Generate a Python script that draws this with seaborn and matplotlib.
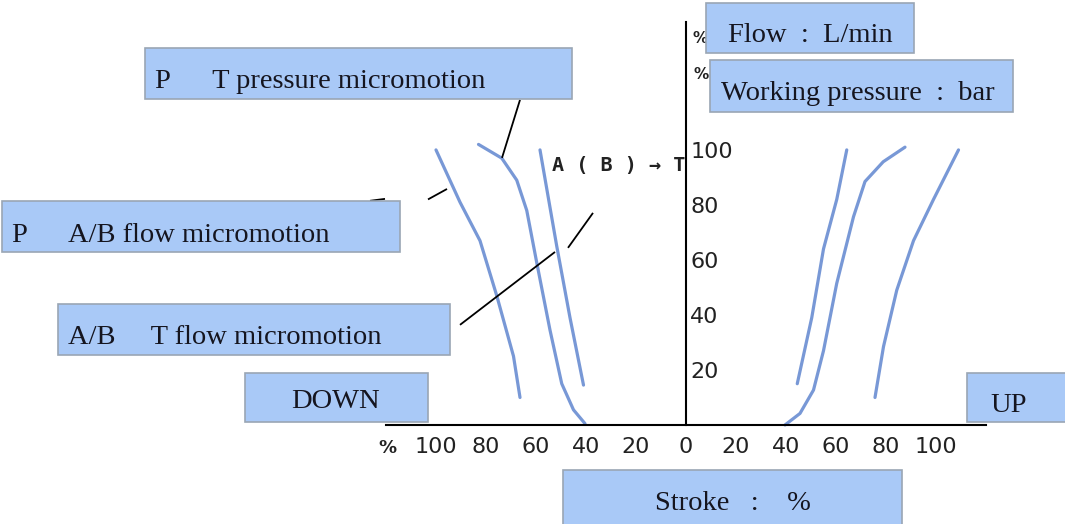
import matplotlib
matplotlib.use("Agg")
import matplotlib.pyplot as plt
from matplotlib.patches import Rectangle
import seaborn as sns
import pandas as pd

# ---- data (stroke %, flow/pressure %) ----
pab_flow_down_x = [-100, -90.4, -82.4, -75.7, -69, -66.4]
pab_flow_down_y = [100, 81, 67, 47, 25, 10]
pt_press_down_x = [-83, -73.7, -67.7, -63.7, -59.7, -54.4, -49.7, -45, -40.4]
pt_press_down_y = [102, 97, 89, 78, 59, 34.5, 15, 5.5, 0.5]
abt_flow_down_x = [-58.4, -51.7, -46.4, -41]
abt_flow_down_y = [100, 65, 39, 14.5]

r1_x = [44.5, 50.3, 55, 60.3, 64.3]
r1_y = [15, 39, 64, 82, 100]
r2_x = [39.6, 45.6, 51, 55, 60.3, 67, 71.6, 78.9, 87.6]
r2_y = [0, 4.2, 12.7, 27, 51.5, 75.7, 88.5, 95.7, 101]
r3_x = [75.6, 79, 84.3, 91, 99, 109]
r3_y = [10, 28.5, 49, 67, 82, 100]

x_ticks = [-100, -80, -60, -40, -20, 0, 20, 40, 60, 80, 100]
x_tick_labels = ["100", "80", "60", "40", "20", "0", "20", "40", "60", "80", "100"]
y_ticks = [20, 40, 60, 80, 100]
y_tick_labels = ["20", "40", "60", "80", "100"]

box_labels = ["Flow  :  L/min", "Working pressure  :  bar",
              "P      T pressure micromotion", "P      A/B flow micromotion",
              "A/B     T flow micromotion", "DOWN", "UP", "Stroke   :    %"]

series = {
    "P-A/B down": (pab_flow_down_x, pab_flow_down_y),
    "P-T down": (pt_press_down_x, pt_press_down_y),
    "AB-T down": (abt_flow_down_x, abt_flow_down_y),
    "R1": (r1_x, r1_y),
    "R2": (r2_x, r2_y),
    "R3": (r3_x, r3_y),
}
rows = []
for name, (xs, ys) in series.items():
    for i, (xv, yv) in enumerate(zip(xs, ys)):
        rows.append({"curve": name, "order": i, "stroke": xv, "value": yv})
df = pd.DataFrame(rows)

sns.set_theme(style="white")
plt.rcParams["font.family"] = ["DejaVu Sans"]

W, H = 1065, 524
fig = plt.figure(figsize=(W / 100, H / 100), dpi=100)
ax = fig.add_axes([0, 0, 1, 1])
ax.set_xlim(-274.4, 151.6)
ax.set_ylim(-36, 154.5)

line_col = "#7898d6"
sns.lineplot(data=df, x="stroke", y="value", units="curve", estimator=None,
             sort=False, color=line_col, lw=2.3, ax=ax, legend=False)

# axes lines
ax.spines["top"].set_visible(False)
ax.spines["left"].set_visible(False)
ax.spines["bottom"].set_position(("data", 0))
ax.spines["bottom"].set_bounds(-120, 120)
ax.spines["right"].set_position(("data", 0))
ax.spines["right"].set_bounds(0, 146.5)
for s in ("bottom", "right"):
    ax.spines[s].set_color("black")
    ax.spines[s].set_linewidth(1.5)
ax.yaxis.tick_right()
ax.set_xticks(x_ticks)
ax.set_xticklabels(x_tick_labels)
ax.set_yticks(y_ticks)
ax.set_yticklabels(y_tick_labels)
ax.tick_params(axis="x", direction="out", length=6, width=1.2, color="black",
               pad=2.5, labelsize=16, labelcolor="#222222")
ax.tick_params(axis="y", length=0, pad=3, labelsize=16, labelcolor="#222222")
ax.set_xlabel("")
ax.set_ylabel("")

# small percent signs
ax.text(-119.6, -8.4, "%", fontsize=13, fontweight="bold", ha="center",
        va="center", color="#222222")
ax.text(5.6, 140.5, "%", fontsize=11, fontweight="bold", ha="center",
        va="center", color="#222222")
ax.text(6.2, 127.5, "%", fontsize=11, fontweight="bold", ha="center",
        va="center", color="#222222")

# A(B) -> T label
ax.text(-53.8, 94.5, "A ( B ) \u2192 T", fontsize=14.5, fontweight="bold",
        family=["DejaVu Sans Mono"], ha="left", va="center",
        color="#222222")

# leader lines (data coords)
leaders = [((-66.4, 118.2), (-73.6, 97.1)),
           ((-90.4, 36.4), (-52.4, 62.9)),
           ((-47.2, 64.4), (-37.2, 77.1)),
           ((-103.2, 82.0), (-95.6, 85.8)),
           ((-126.4, 81.5), (-120.4, 82.2))]
for (x0, y0), (x1, y1) in leaders:
    ax.plot([x0, x1], [y0, y1], color="black", lw=1.3, solid_capstyle="butt")

# boxes in pixel coordinates of the picture
boxes = [
    (706, 3, 914, 53, 728, 35),
    (710, 60, 1013, 112, 721, 94),
    (145, 48, 572, 99, 155, 81),
    (2, 201, 400, 252, 12, 236),
    (58, 304, 450, 355, 68, 338),
    (245, 373, 428, 422, 291, 402),
    (967, 373, 1066, 422, 990, 406),
    (563, 470, 902, 526, 655, 503),
]
for (x0, y0, x1, y1, tx, ty), label in zip(boxes, box_labels):
    r = Rectangle((x0 / W, 1 - y1 / H), (x1 - x0) / W, (y1 - y0) / H,
                  transform=fig.transFigure, facecolor="#a9c9f7",
                  edgecolor="#9aa6b4", lw=1.2, zorder=5)
    fig.add_artist(r)
    fig.text(tx / W, 1 - ty / H, label, fontsize=20.5,
             family=["Liberation Serif", "DejaVu Serif"],
             ha="left", va="center", color="#15151f", zorder=6)

fig.savefig("out.png", dpi=100)
